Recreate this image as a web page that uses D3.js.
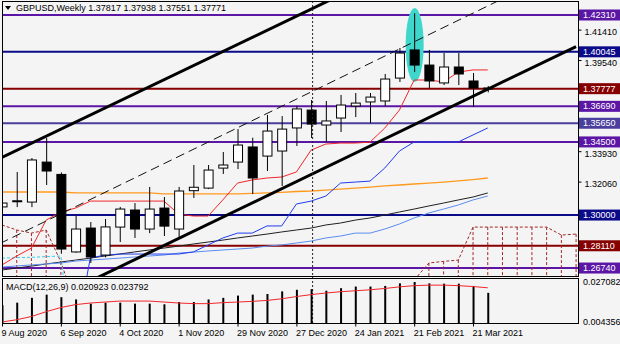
<!DOCTYPE html>
<html>
<head>
<meta charset="utf-8">
<script src="https://cdnjs.cloudflare.com/ajax/libs/d3/7.8.5/d3.min.js"></script>
<style>
  body { margin: 0; background: #f4f4f4; }
  svg text { font-family: "Liberation Sans", Arial, sans-serif; font-size: 9px; }
</style>
</head>
<body>
<div id="chart"></div>
<script>
// weekly bars, 9 Aug 2020 .. 28 Mar 2021
const weeks = ["9 Aug 2020","16 Aug 2020","23 Aug 2020","30 Aug 2020","6 Sep 2020","13 Sep 2020","20 Sep 2020","27 Sep 2020",
  "4 Oct 2020","11 Oct 2020","18 Oct 2020","25 Oct 2020","1 Nov 2020","8 Nov 2020","15 Nov 2020","22 Nov 2020",
  "29 Nov 2020","6 Dec 2020","13 Dec 2020","20 Dec 2020","27 Dec 2020","3 Jan 2021","10 Jan 2021","17 Jan 2021",
  "24 Jan 2021","31 Jan 2021","7 Feb 2021","14 Feb 2021","21 Feb 2021","28 Feb 2021","7 Mar 2021","14 Mar 2021",
  "21 Mar 2021","28 Mar 2021"];
const opens  = [1.3050,1.3084,1.3080,1.3326,1.3250,1.2773,1.2920,1.2754,1.2926,1.3031,1.2914,1.3043,1.2914,1.3150,1.3166,1.3289,
  1.3326,1.3419,1.3363,1.3394,1.3536,1.3646,1.3554,1.3597,1.3671,1.3696,1.3702,1.3843,1.4016,1.3923,1.3813,1.3911,1.3825,1.37817];
const highs  = [1.3080,1.3265,1.3351,1.3474,1.3262,1.2994,1.2957,1.2976,1.3050,1.3074,1.3173,1.3111,1.3173,1.3308,1.3308,1.3388,
  1.3529,1.3476,1.3616,1.3609,1.3671,1.3708,1.3702,1.3739,1.3751,1.3751,1.3868,1.4028,1.4241,1.4016,1.3997,1.3997,1.3874,1.37938];
const lows   = [1.3045,1.3049,1.3049,1.3185,1.2762,1.2768,1.2705,1.2740,1.2834,1.2859,1.2889,1.2871,1.2859,1.3105,1.3160,1.3253,
  1.3283,1.3129,1.3271,1.3179,1.3425,1.3474,1.3450,1.3511,1.3603,1.3566,1.3671,1.3819,1.3880,1.3782,1.3800,1.3800,1.3665,1.37551];
const closes = [1.3074,1.3088,1.3339,1.3271,1.2791,1.2914,1.2742,1.2927,1.3037,1.2914,1.3037,1.2932,1.3148,1.3171,1.3277,1.3308,
  1.3431,1.3228,1.3517,1.3529,1.3653,1.3560,1.3579,1.3677,1.3689,1.3726,1.3837,1.3997,1.3923,1.3825,1.3911,1.3868,1.3782,1.37771];

// indicator lines (price per bar, null = not drawn)
const tenkan = [1.2693,1.2748,1.2797,1.2969,1.3019,1.3043,1.3086,1.3086,1.3086,1.3086,1.3086,1.3086,1.3006,1.2994,1.2994,1.3093,
  1.3197,1.3216,1.3228,1.3234,1.3265,1.3400,1.3437,1.3443,1.3443,1.3449,1.3535,1.3646,1.3831,1.3831,1.3819,1.3880,1.3893,1.3893];
const kijun = [null,null,null,null,null,1.2250,1.2736,1.2754,1.2760,1.2760,1.2760,1.2760,1.2760,1.2773,1.2816,1.2859,
  1.2889,1.2889,1.2933,1.2933,1.3068,1.3086,1.3117,1.3197,1.3203,1.3209,1.3289,1.3394,1.3450,1.3450,1.3450,1.3450,1.3493,1.3536];
const chikouLag = [1.2735,1.2738,1.2740,1.2744,1.2748,1.2000,null,null,null,null,null,null,null,null,null,null,
  null,null,null,null,null,null,null,null,null,null,null,null,null,null,null,null,null,null];
const maOrange = [1.3142,1.3142,1.3142,1.3142,1.3142,1.3136,1.3136,1.3136,1.3136,1.3136,1.3136,1.3130,1.3130,1.3130,1.3130,1.3130,
  1.3130,1.3133,1.3136,1.3140,1.3145,1.3148,1.3154,1.3160,1.3166,1.3172,1.3179,1.3185,1.3191,1.3197,1.3203,1.3210,1.3218,1.3228];
const maBlack = [1.2662,1.2674,1.2686,1.2699,1.2711,1.2723,1.2735,1.2748,1.2760,1.2773,1.2785,1.2797,1.2809,1.2822,1.2834,1.2846,
  1.2859,1.2871,1.2883,1.2896,1.2908,1.2920,1.2939,1.2951,1.2969,1.2982,1.3000,1.3019,1.3037,1.3056,1.3074,1.3093,1.3111,1.3136];
const maLightBlue = [1.2680,1.2687,1.2693,1.2699,1.2705,1.2717,1.2723,1.2729,1.2735,1.2742,1.2748,1.2754,1.2766,1.2772,1.2779,1.2785,
  1.2791,1.2797,1.2809,1.2816,1.2828,1.2840,1.2859,1.2871,1.2889,1.2889,1.2914,1.2945,1.2982,1.3013,1.3037,1.3062,1.3093,1.3117];
// upper edge of the ichimoku cloud (bar index, price); the lower edge lies under the window
const cloudLeftBars    = [-1, 0, 1, 2, 3, 4, 5];
const cloudLeftPrices  = [1.2957, 1.2939, 1.2908, 1.2889, 1.2908, 1.2711, 1.2450];
const cloudRightBars   = [28, 29, 30, 31, 32, 33, 34, 35, 36, 37, 38, 39];
const cloudRightPrices = [1.2600,1.2705,1.2715,1.2723,1.2926,1.2926,1.2926,1.2926,1.2926,1.2926,1.2877,1.2883];

// drawn trend lines: [bar, price] end points
const channelUpper = [[-1, 1.3311], [25, 1.4441]];
const channelLower = [[5, 1.2550], [39, 1.4037]];
const channelMid   = [[-1, 1.2787], [36, 1.4419]];

// horizontal levels
const levelPrices = [1.42310, 1.40045, 1.37777, 1.36690, 1.35650, 1.34500, 1.30000, 1.28110, 1.26740];
const levelKinds  = ["purple", "navy", "maroon", "purple", "slate", "purple", "navy", "maroon", "purple"];
const priceTicks = [1.41410, 1.39540, 1.33930, 1.32060];

// MACD(12,26,9)
const macdHist = [0.01387,0.01534,0.01808,0.01991,0.01845,0.01717,0.01479,0.01534,0.01534,0.01479,0.01479,0.01442,0.01570,0.01570,
  0.01717,0.01808,0.01936,0.01991,0.02028,0.02174,0.02266,0.02302,0.02211,0.02357,0.02449,0.02449,0.02485,0.02632,0.02708,
  0.02632,0.02613,0.02613,0.02485,0.020923];
const macdSignal = [0.00436,0.00564,0.00747,0.01021,0.01259,0.01424,0.01515,0.01570,0.01625,0.01625,0.01625,0.01570,0.01515,
  0.01479,0.01479,0.01534,0.01570,0.01607,0.01662,0.01753,0.01881,0.01991,0.02083,0.02156,0.02211,0.02266,0.02339,0.02431,
  0.02500,0.02530,0.02530,0.02500,0.02450,0.023792];
const macdScale = [0.027082, 0.004356];

const W = 620, H = 344;
const left = 2, right = 578, mainTop = 1, mainBottom = 276, macdTop = 278, macdBottom = 323;

const colors = { purple: "#5b16a6", navy: "#0b0b8a", maroon: "#860000", slate: "#4a3f9c" };
const cloudColor = "#a1282a";

const svg = d3.select("#chart").append("svg")
  .attr("width", W).attr("height", H)
  .style("background", "#f4f4f4");

const x = d3.scaleLinear().domain([0, 39]).range([left, left + 14.72 * 39]);
const y = d3.scaleLinear().domain([1.2625, 1.43172]).range([mainBottom, mainTop]);
const ym = d3.scaleLinear().domain([0.004356, 0.027082]).range([macdBottom - 1, macdTop + 4]);

svg.append("clipPath").attr("id", "clipMain").append("rect")
  .attr("x", left).attr("y", mainTop).attr("width", right - left).attr("height", mainBottom - mainTop);
svg.append("clipPath").attr("id", "clipMacd").append("rect")
  .attr("x", left).attr("y", macdTop).attr("width", right - left).attr("height", macdBottom - macdTop);

const main = svg.append("g").attr("clip-path", "url(#clipMain)");

// horizontal levels
main.selectAll(".level").data(levelPrices).enter().append("line")
  .attr("x1", left).attr("x2", right)
  .attr("y1", d => y(d)).attr("y2", d => y(d))
  .attr("stroke", (d, i) => colors[levelKinds[i]])
  .attr("stroke-width", 2);

// cloud: dotted edge plus dotted hatching down to the window bottom
function drawCloud(bars, prices) {
  const pts = bars.map((b, i) => [b, prices[i]]);
  main.append("g").selectAll("line").data(pts).enter().append("line")
    .attr("x1", d => x(d[0])).attr("x2", d => x(d[0]))
    .attr("y1", d => y(d[1])).attr("y2", mainBottom)
    .attr("stroke", cloudColor).attr("stroke-width", 1).attr("stroke-dasharray", "3,2");
  main.append("path").datum(pts)
    .attr("d", d3.line().x(d => x(d[0])).y(d => y(d[1])))
    .attr("fill", "none").attr("stroke", cloudColor).attr("stroke-dasharray", "3,2");
}
drawCloud(cloudLeftBars, cloudLeftPrices);
drawCloud(cloudRightBars, cloudRightPrices);

// highlight ellipse
main.append("ellipse")
  .attr("cx", x(28) + 0.5).attr("cy", (y(1.4274) + y(1.3819)) / 2)
  .attr("rx", 9).attr("ry", (y(1.3819) - y(1.4274)) / 2)
  .attr("fill", "#3fd6cc");

// moving averages / ichimoku
const line = d3.line().defined(d => d != null).x((d, i) => x(i)).y(d => y(d));
main.append("path").datum(chikouLag).attr("d", line).attr("fill", "none").attr("stroke", "#36d0f0")
  .attr("stroke-width", 1).attr("stroke-dasharray", "3,2");
main.append("path").datum(maOrange).attr("d", line).attr("fill", "none").attr("stroke", "#ff9a1f").attr("stroke-width", 1.3);
main.append("path").datum(maBlack).attr("d", line).attr("fill", "none").attr("stroke", "#202020").attr("stroke-width", 1);
main.append("path").datum(maLightBlue).attr("d", line).attr("fill", "none").attr("stroke", "#5a8cf0").attr("stroke-width", 1);
main.append("path").datum(kijun).attr("d", line).attr("fill", "none").attr("stroke", "#1f3cf0").attr("stroke-width", 1);
main.append("path").datum(tenkan).attr("d", line).attr("fill", "none").attr("stroke", "#f2262a").attr("stroke-width", 1);

// channel
const tline = d3.line().x(d => x(d[0])).y(d => y(d[1]));
main.append("path").datum(channelUpper).attr("d", tline).attr("stroke", "#000").attr("stroke-width", 3);
main.append("path").datum(channelLower).attr("d", tline).attr("stroke", "#000").attr("stroke-width", 3);
main.append("path").datum(channelMid).attr("d", tline).attr("stroke", "#111").attr("stroke-width", 1)
  .attr("stroke-dasharray", "9,5");

// candles
const bars = weeks.map((w, i) => ({ i, o: opens[i], h: highs[i], l: lows[i], c: closes[i] }));
const candle = main.selectAll(".candle").data(bars).enter().append("g");
candle.append("line")
  .attr("x1", d => x(d.i) + 0.5).attr("x2", d => x(d.i) + 0.5)
  .attr("y1", d => y(d.h)).attr("y2", d => y(d.l))
  .attr("stroke", "#000");
candle.append("rect")
  .attr("x", d => x(d.i) - 4).attr("width", 9)
  .attr("y", d => y(Math.max(d.o, d.c)))
  .attr("height", d => Math.max(1, Math.abs(y(d.o) - y(d.c))))
  .attr("fill", d => d.c >= d.o ? "#fff" : "#000")
  .attr("stroke", "#000");

// period separator
svg.append("line")
  .attr("x1", x(21) + 1.5).attr("x2", x(21) + 1.5)
  .attr("y1", mainTop).attr("y2", macdBottom)
  .attr("stroke", "#222").attr("stroke-dasharray", "2,2");

// MACD panel
const macd = svg.append("g").attr("clip-path", "url(#clipMacd)");
macd.selectAll(".hist").data(macdHist).enter().append("line")
  .attr("x1", (d, i) => x(i) + 0.5).attr("x2", (d, i) => x(i) + 0.5)
  .attr("y1", macdBottom).attr("y2", d => ym(d))
  .attr("stroke", "#000").attr("stroke-width", 2);
macd.append("path").datum(macdSignal)
  .attr("d", d3.line().x((d, i) => x(i)).y(d => ym(d)))
  .attr("fill", "none").attr("stroke", "#f2262a").attr("stroke-width", 1);

// frames
svg.append("rect").attr("x", left + 0.5).attr("y", mainTop + 0.5)
  .attr("width", right - left).attr("height", mainBottom - mainTop)
  .attr("fill", "none").attr("stroke", "#000");
svg.append("rect").attr("x", left + 0.5).attr("y", macdTop + 0.5)
  .attr("width", right - left).attr("height", macdBottom - macdTop)
  .attr("fill", "none").attr("stroke", "#000");

// right price axis
const yAxis = d3.axisRight(y).tickValues(priceTicks).tickSize(3).tickFormat(d3.format(".5f"));
const ya = svg.append("g").attr("transform", `translate(${right + 0.5},0)`).call(yAxis);
ya.select(".domain").remove();
ya.selectAll("text").attr("x", 6).attr("dy", "0.58em").attr("fill", "#000").style("font-size", "9px");

// level labels
const lab = svg.selectAll(".lvl").data(levelPrices).enter().append("g")
  .attr("transform", d => `translate(${right + 1},${y(d)})`);
lab.append("rect").attr("x", 0).attr("y", -5.5).attr("width", 42).attr("height", 11)
  .attr("fill", (d, i) => colors[levelKinds[i]]);
lab.append("text").attr("x", 4).attr("y", 3).attr("fill", "#fff")
  .text(d => d3.format(".5f")(d));

// MACD scale labels
svg.selectAll(".mlab").data(macdScale).enter().append("text")
  .attr("x", right + 5).attr("y", d => ym(d) + 3)
  .text(d => d3.format(".6f")(d));

// time axis
const xAxis = d3.axisBottom(x).tickValues(d3.range(0, weeks.length, 4)).tickSize(3)
  .tickFormat(i => weeks[i]);
const xa = svg.append("g").attr("transform", `translate(0,${macdBottom + 0.5})`).call(xAxis);
xa.select(".domain").remove();
xa.selectAll("text").attr("text-anchor", "start").attr("x", -1).attr("y", 6).attr("fill", "#000")
  .style("font-size", "9px");

// titles
svg.append("path").attr("d", "M5,6 L11,6 L8,10 Z").attr("fill", "#000");
svg.append("text").attr("x", 16).attr("y", 11)
  .text("GBPUSD,Weekly  1.37817 1.37938 1.37551 1.37771");
svg.append("text").attr("x", 6).attr("y", 290)
  .text("MACD(12,26,9) 0.020923 0.023792");
</script>
</body>
</html>
